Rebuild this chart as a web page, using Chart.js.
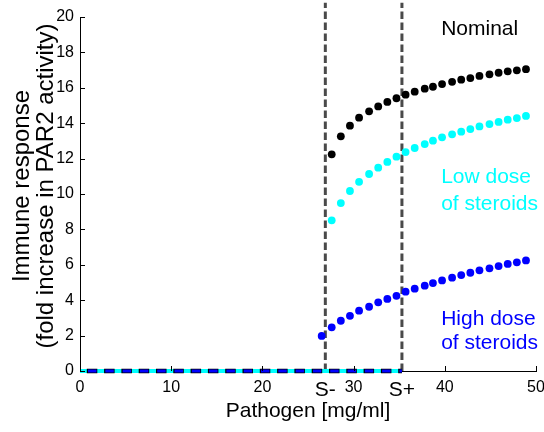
<!DOCTYPE html>
<html>
<head>
<meta charset="utf-8">
<script src="https://cdn.jsdelivr.net/npm/chart.js@4.4.0/dist/chart.umd.min.js"></script>
<style>
  html, body { margin: 0; padding: 0; background: #fff; }
  #wrap { width: 544px; height: 432px; }
</style>
</head>
<body>
<div id="wrap"><canvas id="immuneChart" width="544" height="432"></canvas></div>
<script>
// pathogen dose (x) for the responding part of each curve
var doseX = [27.6, 28.6, 29.6, 30.6, 31.7, 32.7, 33.7, 34.7, 35.7, 36.7, 37.8,
             38.7, 39.7, 40.8, 41.8, 42.8, 43.8, 44.9, 45.9, 46.9, 47.9, 48.9];
var nominalY = [12.24, 13.26, 13.86, 14.31, 14.67, 14.95, 15.20, 15.41, 15.61, 15.78, 15.95,
                16.06, 16.21, 16.34, 16.46, 16.55, 16.67, 16.76, 16.85, 16.93, 16.99, 17.05];
var lowDoseY = [8.51, 9.49, 10.17, 10.69, 11.13, 11.49, 11.81, 12.11, 12.37, 12.60, 12.82,
                13.01, 13.20, 13.37, 13.52, 13.67, 13.82, 13.95, 14.07, 14.20, 14.29, 14.41];
var highDoseX = [26.5, 27.6, 28.6, 29.6, 30.6, 31.7, 32.7, 33.7, 34.7, 35.7, 36.7, 37.8,
                 38.7, 39.7, 40.8, 41.8, 42.8, 43.8, 44.9, 45.9, 46.9, 47.9, 48.9];
var highDoseY = [1.98, 2.47, 2.84, 3.12, 3.41, 3.63, 3.88, 4.07, 4.25, 4.48, 4.65, 4.82,
                 4.97, 5.12, 5.27, 5.42, 5.55, 5.69, 5.80, 5.93, 6.05, 6.14, 6.25];

// no response below threshold
var zeroX = [0, 35.3];
var zeroY = [0, 0];

// thresholds S- and S+
var thresholdX = [26.9, 35.3];
var thresholdY = [0, 20.8];

var xTickValues = [0, 10, 20, 26.9, 30, 35.3, 40, 50];
var xTickLabels = ['0', '10', '20', 'S-', '30', 'S+', '40', '50'];
var yTickValues = [0, 2, 4, 6, 8, 10, 12, 14, 16, 18, 20];
var yTitleLines = ['Immune response', '(fold increase in PAR2 activity)'];

var FONT = "'Liberation Sans', Arial, sans-serif";

function toPoints(xs, ys) {
  return xs.map(function (x, i) { return { x: x, y: ys[i] }; });
}

function dotSet(label, xs, ys, color) {
  return {
    label: label,
    data: toPoints(xs, ys),
    showLine: false,
    pointRadius: 3.9,
    pointBackgroundColor: color,
    pointBorderColor: color,
    pointBorderWidth: 0
  };
}

function vline(x) {
  return {
    data: toPoints([x, x], thresholdY),
    showLine: true,
    pointRadius: 0,
    borderColor: '#4a4a4a',
    borderWidth: 3,
    borderDash: [7.5, 3.5],
    clip: false
  };
}

// inward tick marks, y-axis title and the curve labels
var extrasPlugin = {
  id: 'extras',
  afterDatasetsDraw: function (chart) {
    var ctx = chart.ctx;
    var xs = chart.scales.x, ys = chart.scales.y, a = chart.chartArea;
    ctx.save();
    ctx.strokeStyle = '#000';
    ctx.lineWidth = 1;
    ctx.beginPath();
    yTickValues.forEach(function (v) {
      var py = Math.round(ys.getPixelForValue(v)) + 0.5;
      ctx.moveTo(a.left, py);
      ctx.lineTo(a.left + 5, py);
    });
    [0, 10, 20, 30, 40, 50].forEach(function (v) {
      var px = Math.round(xs.getPixelForValue(v)) + 0.5;
      ctx.moveTo(px, a.bottom);
      ctx.lineTo(px, a.bottom - 5);
    });
    ctx.stroke();

    // two-line y title, sitting a little above the axis middle
    ctx.save();
    ctx.translate(22, (a.top + a.bottom) / 2 - 8);
    ctx.rotate(-Math.PI / 2);
    ctx.font = '24px ' + FONT;
    ctx.fillStyle = '#000';
    ctx.textAlign = 'center';
    ctx.textBaseline = 'middle';
    yTitleLines.forEach(function (line, i) {
      ctx.fillText(line, 0, i * 24);
    });
    ctx.restore();

    ctx.font = '21px ' + FONT;
    ctx.textAlign = 'left';
    ctx.textBaseline = 'middle';
    var notes = [
      ['Nominal', 39.6, 19.3, '#000000'],
      ['Low dose', 39.6, 10.95, '#00ffff'],
      ['of steroids', 39.6, 9.45, '#00ffff'],
      ['High dose', 39.6, 2.95, '#0000ff'],
      ['of steroids', 39.6, 1.55, '#0000ff']
    ];
    notes.forEach(function (n) {
      ctx.fillStyle = n[3];
      ctx.fillText(n[0], xs.getPixelForValue(n[1]), ys.getPixelForValue(n[2]));
    });
    ctx.restore();
  }
};

var chart = new Chart(document.getElementById('immuneChart'), {
  type: 'scatter',
  data: {
    datasets: [
      dotSet('Nominal', doseX, nominalY, '#000000'),
      dotSet('Low dose of steroids', doseX, lowDoseY, '#00ffff'),
      dotSet('High dose of steroids', highDoseX, highDoseY, '#0000ff'),
      {
        data: toPoints(zeroX, zeroY), showLine: true, pointRadius: 0,
        borderColor: '#0000ff', borderWidth: 3, borderDash: [8.5, 8.8], borderDashOffset: 9.3,
        clip: false
      },
      {
        data: toPoints(zeroX, zeroY), showLine: true, pointRadius: 0,
        borderColor: '#000000', borderWidth: 4.5, borderDash: [10.5, 6.8], borderDashOffset: 10.5,
        clip: false
      },
      {
        data: toPoints(zeroX, zeroY), showLine: true, pointRadius: 0,
        borderColor: '#00ffff', borderWidth: 4, clip: false
      },
      vline(thresholdX[0]),
      vline(thresholdX[1])
    ]
  },
  options: {
    responsive: false,
    animation: false,
    devicePixelRatio: 1,
    layout: { padding: { top: 17, right: 8, left: 0, bottom: 0 } },
    plugins: {
      legend: { display: false },
      tooltip: { enabled: false }
    },
    scales: {
      x: {
        type: 'linear',
        min: 0,
        max: 50,
        afterBuildTicks: function (scale) {
          scale.ticks = xTickValues.map(function (v) { return { value: v }; });
        },
        afterFit: function (scale) {
          scale.height = 61;
          // let the "50" label hang past the edge
          scale.paddingLeft = 0;
          scale.paddingRight = 0;
        },
        grid: { display: true, drawOnChartArea: false, drawTicks: false },
        border: { display: true, color: '#000', width: 1 },
        ticks: {
          autoSkip: false,
          maxRotation: 0,
          padding: 7,
          color: '#000',
          font: function (ctx) {
            var lbl = xTickLabels[ctx.index] || '';
            return { family: FONT, size: lbl.charAt(0) === 'S' ? 21 : 16 };
          },
          callback: function (value, index) { return xTickLabels[index]; }
        },
        title: {
          display: true,
          text: 'Pathogen [mg/ml]',
          color: '#000',
          font: { family: FONT, size: 21 },
          padding: { top: 0, bottom: 8 }
        }
      },
      y: {
        type: 'linear',
        min: 0,
        max: 20,
        afterBuildTicks: function (scale) {
          scale.ticks = yTickValues.map(function (v) { return { value: v }; });
        },
        afterFit: function (scale) { scale.width = 80; },
        grid: { display: true, drawOnChartArea: false, drawTicks: false },
        border: { display: true, color: '#000', width: 1 },
        ticks: {
          padding: 6,
          color: '#000',
          font: { family: FONT, size: 16 }
        },
        title: { display: false }
      }
    }
  },
  plugins: [extrasPlugin]
});
</script>
</body>
</html>
